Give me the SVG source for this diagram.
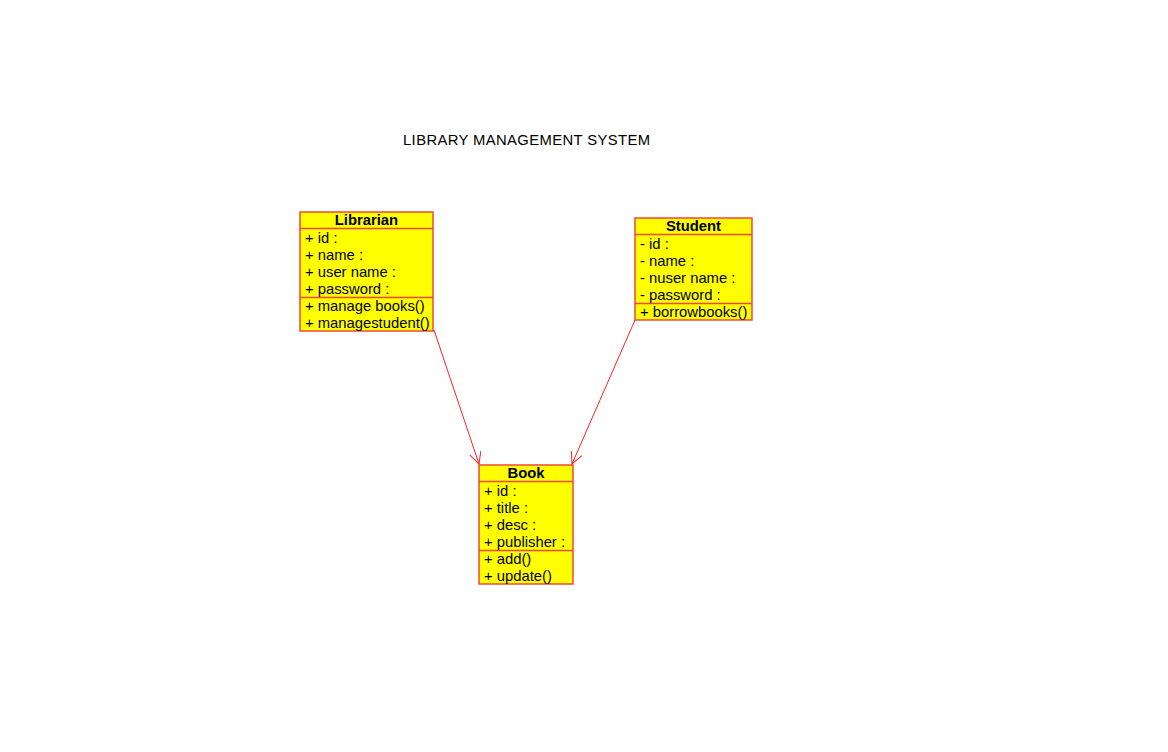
<svg xmlns="http://www.w3.org/2000/svg" width="1168" height="752" viewBox="0 0 1168 752">
<defs>
<style>
.box{fill:#ffff00;stroke:#f04838;stroke-width:1.5}
.sep{stroke:#f04838;stroke-width:1.5}
.t{font-family:"Liberation Sans",Arial,sans-serif;font-size:14.8px;fill:#000}
.h{font-weight:bold;text-anchor:middle}
.title{font-family:"Liberation Sans",Arial,sans-serif;font-size:14.8px;fill:#000}
.conn{stroke:#ff2020;stroke-width:1;fill:none}
</style>
<marker id="open" markerWidth="14" markerHeight="14" refX="12" refY="6" orient="auto" markerUnits="userSpaceOnUse">
<path d="M0,0 L12,6 L0,12" fill="none" stroke="#ff2020" stroke-width="1"/>
</marker>
</defs>
<rect width="1168" height="752" fill="#fff"/>
<text class="title" x="403" y="145" textLength="247" lengthAdjust="spacing">LIBRARY MANAGEMENT SYSTEM</text>
<g id="Librarian">
<rect class="box" x="300" y="212" width="133" height="119"/>
<line class="sep" x1="300" y1="228.5" x2="433" y2="228.5"/>
<line class="sep" x1="300" y1="297.5" x2="433" y2="297.5"/>
<text class="t h" x="366.5" y="225">Librarian</text>
<text class="t" x="305" y="243">+ id :</text>
<text class="t" x="305" y="260">+ name :</text>
<text class="t" x="305" y="277">+ user name :</text>
<text class="t" x="305" y="294">+ password :</text>
<text class="t" x="305" y="311">+ manage books()</text>
<text class="t" x="305" y="328">+ managestudent()</text>
</g>
<g id="Student">
<rect class="box" x="635" y="218" width="117" height="102"/>
<line class="sep" x1="635" y1="234.5" x2="752" y2="234.5"/>
<line class="sep" x1="635" y1="303.5" x2="752" y2="303.5"/>
<text class="t h" x="693.5" y="231">Student</text>
<text class="t" x="640" y="249">- id :</text>
<text class="t" x="640" y="266">- name :</text>
<text class="t" x="640" y="283">- nuser name :</text>
<text class="t" x="640" y="300">- password :</text>
<text class="t" x="640" y="317">+ borrowbooks()</text>
</g>
<g id="Book">
<rect class="box" x="479" y="465" width="94" height="119"/>
<line class="sep" x1="479" y1="481.5" x2="573" y2="481.5"/>
<line class="sep" x1="479" y1="550.5" x2="573" y2="550.5"/>
<text class="t h" x="526" y="478">Book</text>
<text class="t" x="484" y="496">+ id :</text>
<text class="t" x="484" y="513">+ title :</text>
<text class="t" x="484" y="530">+ desc :</text>
<text class="t" x="484" y="547">+ publisher :</text>
<text class="t" x="484" y="564">+ add()</text>
<text class="t" x="484" y="581">+ update()</text>
</g>
<g id="connectors">
<line class="conn" x1="434" y1="330" x2="479" y2="464" marker-end="url(#open)"/>
<line class="conn" x1="635" y1="320" x2="572" y2="464" marker-end="url(#open)"/>
</g>
</svg>
